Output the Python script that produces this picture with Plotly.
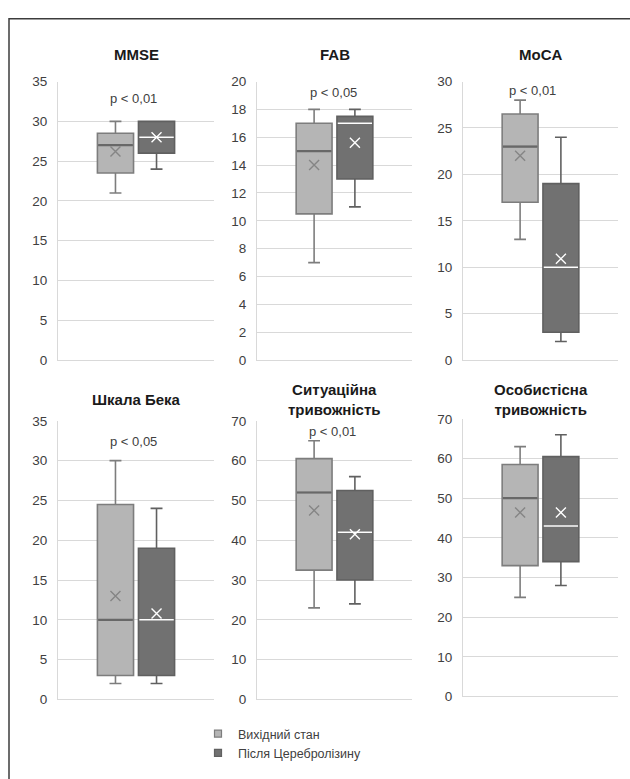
import plotly.graph_objects as go

# ---- data: box statistics for each scale (baseline vs. after Cerebrolysin) ----
scales = ["MMSE", "FAB", "MoCA", "Шкала Бека",
          "Ситуаційна<br>тривожність", "Особистісна<br>тривожність"]
y_max = [35, 20, 30, 35, 70, 70]
y_step = [5, 2, 5, 5, 10, 10]

base_low = [21, 7, 13, 2, 23, 25]
base_q1 = [23.5, 10.5, 17, 3, 32.5, 33]
base_median = [27, 15, 23, 10, 52, 50]
base_q3 = [28.5, 17, 26.5, 24.5, 60.5, 58.5]
base_high = [30, 18, 28, 30, 65, 63]
base_mean = [26.2, 14, 22, 13, 47.5, 46.4]

post_low = [24, 11, 2, 2, 24, 28]
post_q1 = [26, 13, 3, 3, 30, 34]
post_median = [28, 17, 10, 10, 42, 43]
post_q3 = [30, 17.5, 19, 19, 52.5, 60.5]
post_high = [30, 18, 24, 24, 56, 66]
post_mean = [28, 15.6, 10.9, 10.8, 41.5, 46.4]

p_labels = ["p < 0,01", "p < 0,05", "p < 0,01", "p < 0,05", "p < 0,01", ""]
series_names = ["Вихідний стан", "Після Церебролізину"]

# ---- styling ----
W, H = 630, 779
FONT = "Liberation Sans, Arial, sans-serif"
TXT = "#404040"
GRID = "#d9d9d9"
LIGHT_FILL, LIGHT_LINE = "#b5b5b5", "#7d7d7d"
DARK_FILL, DARK_LINE = "#717171", "#606060"

# plot-area rectangles in pixels: (left, right, top, bottom)
panels_px = [
    (58, 214, 76, 360), (257, 412, 76, 360), (463, 618, 76, 360),
    (58, 214, 422, 706), (257, 412, 422, 706), (463, 618, 420, 703),
]
title_y_px = [48, 48, 48, 400, 400, 400]
p_pos_px = [(133, 93), (333, 87), (532, 85), (133, 443), (332, 433), (0, 0)]

POS = [-0.5, 0.5]     # box centres on each x axis
BOX_W = 0.88
X_RANGE = [-1.9, 1.9]


def px_x(v):
    return v / W


def px_y(v):
    return 1 - v / H


fig = go.Figure()
layout = {}
annotations = []

for i, name in enumerate(scales):
    n = "" if i == 0 else str(i + 1)
    xa, ya = "x" + n, "y" + n
    left, right, top, bottom = panels_px[i]

    groups = [
        (base_low, base_q1, base_median, base_q3, base_high, base_mean,
         LIGHT_FILL, LIGHT_LINE, "#686868", "#858585", 2.2),
        (post_low, post_q1, post_median, post_q3, post_high, post_mean,
         DARK_FILL, DARK_LINE, "#ffffff", "#ffffff", 1.6),
    ]
    for g, (lo, q1, med, q3, hi, mean, fill, line, med_c, mean_c, med_w) in enumerate(groups):
        fig.add_trace(go.Box(
            x=[POS[g]], q1=[q1[i]], median=[med[i]], q3=[q3[i]],
            lowerfence=[lo[i]], upperfence=[hi[i]],
            width=BOX_W, fillcolor=fill, line=dict(color=line, width=1.6),
            whiskerwidth=0.33, boxpoints=False, showlegend=False,
            xaxis=xa, yaxis=ya, hoverinfo="skip",
        ))
        # median bar drawn over the box in its own colour
        half = BOX_W / 2 - 0.02
        fig.add_trace(go.Scatter(
            x=[POS[g] - half, POS[g] + half], y=[med[i], med[i]],
            mode="lines", line=dict(color=med_c, width=med_w),
            showlegend=False, xaxis=xa, yaxis=ya, hoverinfo="skip",
        ))
        # mean marker
        fig.add_trace(go.Scatter(
            x=[POS[g]], y=[mean[i]], mode="markers",
            marker=dict(symbol="x-thin", size=10,
                        line=dict(color=mean_c, width=1.4)),
            showlegend=False, xaxis=xa, yaxis=ya, hoverinfo="skip",
        ))

    layout["xaxis" + n] = dict(
        domain=[px_x(left), px_x(right)], range=X_RANGE, anchor=ya,
        showticklabels=False, showgrid=False, zeroline=False,
        showline=True, linecolor=GRID, linewidth=1, fixedrange=True,
    )
    layout["yaxis" + n] = dict(
        domain=[px_y(bottom), px_y(top)], range=[0, y_max[i]], anchor=xa,
        dtick=y_step[i], tick0=0, showgrid=True, gridcolor=GRID, gridwidth=1,
        zeroline=False, showline=True, linecolor=GRID, linewidth=1,
        ticks="", ticklabelstandoff=7,
        tickfont=dict(family=FONT, size=13.5, color=TXT), fixedrange=True,
    )

    annotations.append(dict(
        text="<b>" + name + "</b>", xref="paper", yref="paper",
        x=px_x((left + right) / 2), y=px_y(title_y_px[i]),
        xanchor="center", yanchor="middle", showarrow=False,
        font=dict(family=FONT, size=15, color="#1a1a1a"),
    ))
    if p_labels[i]:
        px, py = p_pos_px[i]
        annotations.append(dict(
            text=p_labels[i], xref="paper", yref="paper",
            x=px_x(px), y=px_y(py), xanchor="center", yanchor="middle",
            showarrow=False, font=dict(family=FONT, size=13, color=TXT),
        ))

# legend entries
for name, fill, line in [(series_names[0], LIGHT_FILL, LIGHT_LINE),
                         (series_names[1], DARK_FILL, DARK_LINE)]:
    fig.add_trace(go.Scatter(
        x=[None], y=[None], mode="markers", name=name,
        marker=dict(symbol="square", size=7, color=fill,
                    line=dict(color=line, width=1.2)),
    ))

fig.update_layout(
    width=W, height=H, margin=dict(l=0, r=0, t=0, b=0),
    paper_bgcolor="white", plot_bgcolor="white",
    annotations=annotations,
    showlegend=True,
    legend=dict(x=px_x(198), y=px_y(726), xanchor="left", yanchor="top",
                font=dict(family=FONT, size=12.5, color=TXT),
                bgcolor="rgba(0,0,0,0)", tracegroupgap=0, itemwidth=30),
    shapes=[dict(type="rect", xref="paper", yref="paper",
                 x0=px_x(9), x1=1.02, y0=-0.02, y1=px_y(12),
                 line=dict(color="#3c3c3c", width=1.5))],
    **layout,
)

fig.write_html("out.html")
